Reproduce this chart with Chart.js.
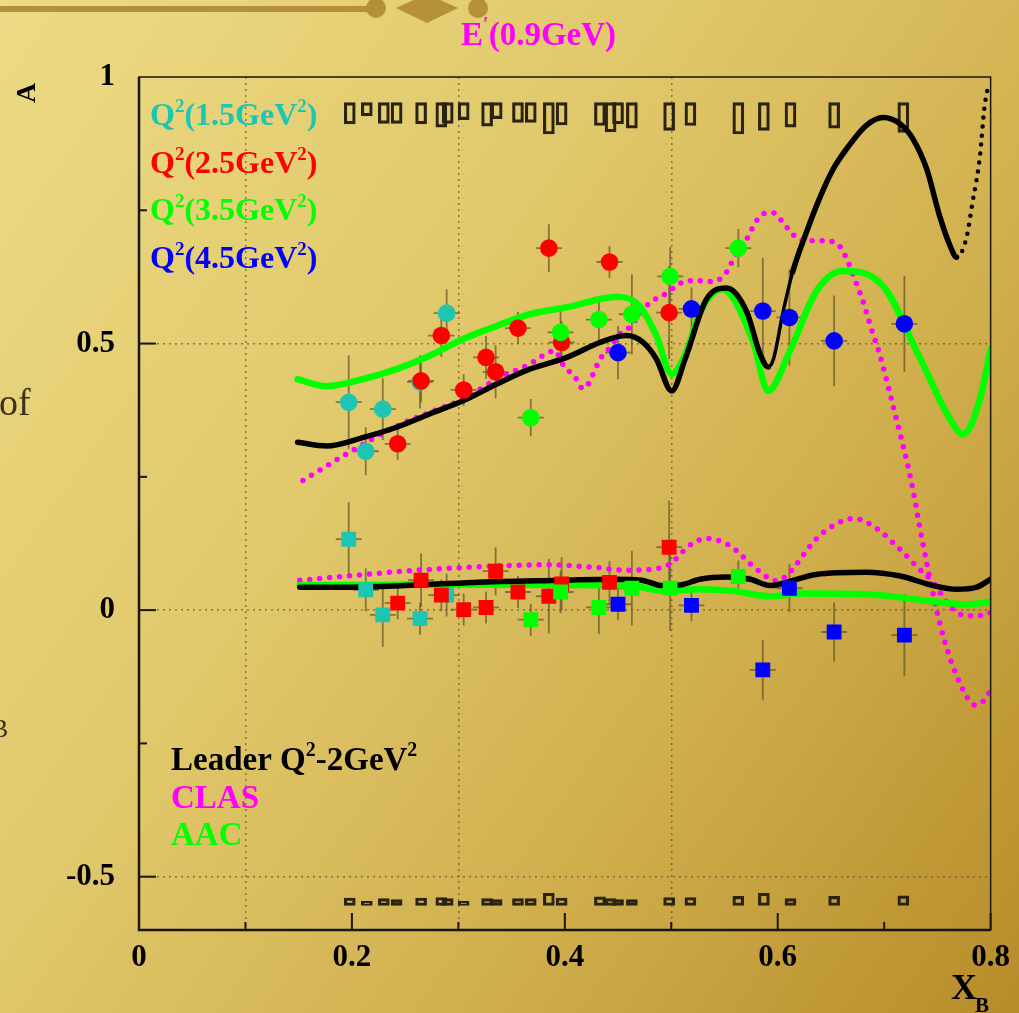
<!DOCTYPE html>
<html lang="en">
<head>
  <meta charset="UTF-8">
  <title>E'(0.9GeV) asymmetry vs x_B</title>
  <script src="https://cdn.jsdelivr.net/npm/chart.js"></script>
  <style>
    html, body {
      margin: 0;
      padding: 0;
    }

    body {
      width: 1019px;
      height: 1013px;
      overflow: hidden;
      background: linear-gradient(125deg, #ecdb84 0%, #e0c76a 40%, #cfad4b 70%, #b68c29 100%);
    }

    canvas {
      display: block;
    }
  </style>
</head>
<body>
  <canvas id="grafico" width="1019" height="1013"></canvas>

  <script>
    // Q^2 bins
    const q2Labels = ['1.5', '2.5', '3.5', '4.5'];
    const q2Colors = ['#1cc6b2', '#ff0000', '#00ff00', '#0000ff'];

    // axis ticks
    const xTicks = [0, 0.2, 0.4, 0.6, 0.8];
    const yTicks = [-0.5, 0, 0.5, 1];

    // circles (upper set) -- x, value, stat error
    const cyanX = [0.197, 0.213, 0.229, 0.264, 0.289];
    const cyanCirc = [0.390, 0.298, 0.377, 0.428, 0.557];
    const cyanCircErr = [0.088, 0.045, 0.058, 0.05, 0.045];

    const redX = [0.243, 0.265, 0.284, 0.305, 0.326, 0.335, 0.356, 0.385, 0.397, 0.442, 0.498];
    const redCirc = [0.312, 0.430, 0.515, 0.413, 0.474, 0.447, 0.529, 0.679, 0.502, 0.653, 0.558];
    const redCircErr = [0.03, 0.04, 0.04, 0.03, 0.04, 0.05, 0.03, 0.045, 0.04, 0.03, 0.087];

    const greenX = [0.368, 0.396, 0.432, 0.463, 0.499, 0.563];
    const greenCirc = [0.361, 0.521, 0.545, 0.555, 0.626, 0.679];
    const greenCircErr = [0.035, 0.05, 0.043, 0.075, 0.055, 0.036];

    const blueX = [0.450, 0.519, 0.586, 0.611, 0.653, 0.719];
    const blueCirc = [0.483, 0.565, 0.561, 0.549, 0.505, 0.537];
    const blueCircErr = [0.05, 0.04, 0.1, 0.09, 0.085, 0.09];

    // squares (lower set)
    const cyanSq = [0.133, 0.038, -0.009, -0.016, 0.028];
    const cyanSqErr = [0.07, 0.04, 0.06, 0.03, 0.04];
    const redSq = [0.013, 0.056, 0.028, 0.001, 0.005, 0.073, 0.034, 0.026, 0.049, 0.052, 0.118];
    const redSqErr = [0.03, 0.05, 0.03, 0.03, 0.03, 0.045, 0.03, 0.07, 0.05, 0.04, 0.087];
    const greenSq = [-0.018, 0.034, 0.005, 0.041, 0.041, 0.063];
    const greenSqErr = [0.03, 0.04, 0.05, 0.07, 0.08, 0.03];
    const blueSq = [0.011, 0.009, -0.112, 0.041, -0.041, -0.047];
    const blueSqErr = [0.03, 0.03, 0.056, 0.045, 0.056, 0.077];

    // systematic boxes (top row hangs from sysTopEdge, bottom row sits on sysBottomEdge)
    const sysX = [0.198, 0.214, 0.230, 0.242, 0.265, 0.284, 0.290, 0.305, 0.327, 0.336, 0.356, 0.368, 0.385,
                  0.397, 0.433, 0.443, 0.450, 0.463, 0.498, 0.518, 0.563, 0.587, 0.612, 0.653, 0.718];
    const sysTopEdge = 0.952;
    const sysTopLow = [0.912, 0.927, 0.913, 0.913, 0.912, 0.906, 0.913, 0.92, 0.908, 0.922, 0.915, 0.915, 0.893,
                       0.91, 0.909, 0.897, 0.912, 0.904, 0.9, 0.909, 0.893, 0.9, 0.906, 0.904, 0.896];
    const sysBottomEdge = -0.554;
    const sysBottomHigh = [-0.540, -0.546, -0.541, -0.543, -0.540, -0.539, -0.541, -0.546, -0.541, -0.543, -0.541, -0.541, -0.531,
                           -0.540, -0.538, -0.541, -0.543, -0.543, -0.539, -0.539, -0.537, -0.531, -0.541, -0.537, -0.536];

    // model curves
    const leaderUpX = [0.149, 0.176, 0.211, 0.242, 0.273, 0.305, 0.336, 0.367, 0.402, 0.433, 0.458, 0.473, 0.486, 0.5005,
                       0.513, 0.533, 0.552, 0.571, 0.583, 0.591, 0.596, 0.605, 0.614, 0.627, 0.639, 0.652, 0.668, 0.683,
                       0.699, 0.715, 0.727, 0.740, 0.752, 0.762, 0.768, 0.777, 0.783, 0.790, 0.794, 0.798];
    const leaderUpY = [0.315, 0.308, 0.324, 0.343, 0.368, 0.393, 0.424, 0.452, 0.474, 0.502, 0.515, 0.503, 0.471, 0.411,
                       0.471, 0.583, 0.604, 0.559, 0.483, 0.456, 0.471, 0.559, 0.634, 0.709, 0.771, 0.827, 0.874, 0.909,
                       0.924, 0.912, 0.884, 0.827, 0.740, 0.683, 0.662, 0.696, 0.765, 0.852, 0.94, 0.987];
    const leaderLowX = [0.151, 0.2, 0.25, 0.314, 0.398, 0.445, 0.472, 0.492, 0.508, 0.527, 0.552, 0.574, 0.593, 0.608,
                        0.636, 0.683, 0.715, 0.746, 0.768, 0.787, 0.8];
    const leaderLowY = [0.043, 0.043, 0.046, 0.052, 0.056, 0.058, 0.056, 0.046, 0.047, 0.058, 0.062, 0.058, 0.046, 0.052,
                        0.067, 0.071, 0.064, 0.046, 0.039, 0.043, 0.058];

    const aacUpX = [0.149, 0.176, 0.210, 0.242, 0.273, 0.304, 0.336, 0.367, 0.402, 0.449, 0.470, 0.486, 0.5005, 0.514,
                    0.527, 0.548, 0.577, 0.591, 0.611, 0.636, 0.661, 0.699, 0.731, 0.762, 0.774, 0.790, 0.8];
    const aacUpY = [0.433, 0.420, 0.433, 0.452, 0.477, 0.508, 0.533, 0.555, 0.568, 0.588, 0.571, 0.515, 0.443, 0.484,
                    0.559, 0.602, 0.503, 0.411, 0.484, 0.597, 0.636, 0.608, 0.484, 0.358, 0.330, 0.396, 0.49];
    const aacLowX = [0.151, 0.2, 0.3, 0.4, 0.46, 0.495, 0.527, 0.558, 0.593, 0.621, 0.683, 0.746, 0.777, 0.8];
    const aacLowY = [0.047, 0.047, 0.048, 0.047, 0.046, 0.036, 0.039, 0.036, 0.026, 0.031, 0.030, 0.016, 0.011, 0.016];

    const clasUpX = [0.154, 0.195, 0.242, 0.273, 0.3045, 0.336, 0.367, 0.3906, 0.398, 0.411, 0.417, 0.4345, 0.444, 0.45,
                     0.459, 0.48, 0.492, 0.505, 0.514, 0.527, 0.539, 0.552, 0.56, 0.571, 0.58, 0.589, 0.596, 0.605,
                     0.614, 0.624, 0.639, 0.65, 0.658, 0.6645, 0.674, 0.68, 0.685, 0.6895, 0.695, 0.71, 0.7255, 0.735,
                     0.75, 0.76, 0.775, 0.785, 0.795, 0.8];
    const clasUpY = [0.243, 0.293, 0.345, 0.371, 0.396, 0.433, 0.4615, 0.4865, 0.4615, 0.433, 0.415, 0.475, 0.496, 0.515,
                     0.527, 0.577, 0.59, 0.608, 0.618, 0.618, 0.616, 0.634, 0.665, 0.696, 0.73, 0.745, 0.745, 0.727,
                     0.705, 0.693, 0.693, 0.692, 0.683, 0.66, 0.612, 0.58, 0.547, 0.518, 0.485, 0.37, 0.241, 0.139,
                     -0.006, -0.079, -0.153, -0.178, -0.167, -0.15];
    const clasLowX = [0.151, 0.179, 0.242, 0.3045, 0.383, 0.43, 0.455, 0.492, 0.501, 0.517, 0.533, 0.555, 0.58, 0.599,
                      0.608, 0.636, 0.652, 0.671, 0.6895, 0.7146, 0.733, 0.746, 0.7615, 0.777, 0.796, 0.8];
    const clasLowY = [0.056, 0.061, 0.072, 0.080, 0.085, 0.080, 0.075, 0.080, 0.090, 0.121, 0.1345, 0.121, 0.077, 0.055,
                      0.064, 0.133, 0.158, 0.172, 0.158, 0.1145, 0.077, 0.052, 0.008, -0.0107, -0.009, -0.004];

    const FONT = '"Liberation Serif", "Times New Roman", serif';

    function pts(xs, ys) {
      return xs.map((x, i) => ({ x: x, y: ys[i] }));
    }

    // point series with their errors (for the error bar plugin)
    // lower "order" is painted on top: blue over green over red over cyan
    const pointSets = [
      { xs: cyanX, ys: cyanCirc, err: cyanCircErr, color: q2Colors[0], style: 'circle', order: 0.3 },
      { xs: redX, ys: redCirc, err: redCircErr, color: q2Colors[1], style: 'circle', order: 0.2 },
      { xs: greenX, ys: greenCirc, err: greenCircErr, color: q2Colors[2], style: 'circle', order: 0.1 },
      { xs: blueX, ys: blueCirc, err: blueCircErr, color: q2Colors[3], style: 'circle', order: 0 },
      { xs: cyanX, ys: cyanSq, err: cyanSqErr, color: q2Colors[0], style: 'rect', order: 0.3 },
      { xs: redX, ys: redSq, err: redSqErr, color: q2Colors[1], style: 'rect', order: 0.2 },
      { xs: greenX, ys: greenSq, err: greenSqErr, color: q2Colors[2], style: 'rect', order: 0.1 },
      { xs: blueX, ys: blueSq, err: blueSqErr, color: q2Colors[3], style: 'rect', order: 0 }
    ];

    function curve(xs, ys, color, width, dotted) {
      return {
        type: 'line',
        data: pts(xs, ys),
        showLine: true,
        borderColor: color,
        borderWidth: width,
        borderCapStyle: 'round',
        borderDash: dotted ? [0, 10] : [],
        pointRadius: 0,
        fill: false,
        cubicInterpolationMode: 'monotone',
        order: 1
      };
    }

    const datasets = [];
    pointSets.forEach(s => {
      datasets.push({
        type: 'scatter',
        data: pts(s.xs, s.ys),
        pointStyle: s.style,
        pointRadius: s.style === 'rect' ? 10.5 : 8.8,
        backgroundColor: s.color,
        borderWidth: 0,
        order: s.order
      });
    });

    const leaderUp = curve(leaderUpX, leaderUpY, '#000000', 5.5, false);
    // steep tail looks like separated dots in the original
    leaderUp.segment = {
      borderDash: c => (c.p0.parsed.x >= 0.768 ? [0, 9] : undefined),
      borderWidth: c => (c.p0.parsed.x >= 0.768 ? 4.5 : (c.p0.parsed.x >= 0.591 && c.p0.parsed.x < 0.612 ? 3.5 : undefined))
    };
    datasets.push(leaderUp);
    datasets.push(curve(leaderLowX, leaderLowY, '#000000', 5.5, false));
    datasets.push(curve(aacUpX, aacUpY, '#00ff00', 6.5, false));
    datasets.push(curve(aacLowX, aacLowY, '#00ff00', 6.5, false));
    datasets.push(curve(clasUpX, clasUpY, '#ff00ff', 5.5, true));
    datasets.push(curve(clasLowX, clasLowY, '#ff00ff', 5.5, true));

    const boxStyle = {
      type: 'bar',
      backgroundColor: 'rgba(0,0,0,0)',
      borderColor: '#2a2312',
      borderWidth: 2.5,
      borderSkipped: false,
      barThickness: 11,
      grouped: false,
      order: 2
    };
    datasets.push(Object.assign({}, boxStyle, {
      data: sysX.map((x, i) => ({ x: x, y: [sysTopLow[i], sysTopEdge] }))
    }));
    datasets.push(Object.assign({}, boxStyle, {
      data: sysX.map((x, i) => ({ x: x, y: [sysBottomEdge, sysBottomHigh[i]] }))
    }));

    // text with single-character superscripts written as ^c
    function drawRich(ctx, str, x, y, size, color) {
      ctx.fillStyle = color;
      ctx.textAlign = 'left';
      ctx.textBaseline = 'alphabetic';
      const parts = str.split(/\^(.)/);
      let cx = x;
      parts.forEach((t, i) => {
        if (!t) return;
        const sup = i % 2 === 1;
        ctx.font = 'bold ' + Math.round(sup ? size * 0.6 : size) + 'px ' + FONT;
        ctx.fillText(t, cx, sup ? y - size * 0.42 : y);
        cx += ctx.measureText(t).width;
      });
    }

    const errorBars = {
      id: 'errorBars',
      beforeDatasetsDraw(chart) {
        const { ctx, scales: { x, y } } = chart;
        ctx.save();
        ctx.beginPath();
        ctx.rect(chart.chartArea.left, chart.chartArea.top, chart.chartArea.width, chart.chartArea.height);
        ctx.clip();
        ctx.strokeStyle = 'rgba(95,82,40,0.7)';
        ctx.lineWidth = 1.8;
        pointSets.forEach(s => {
          s.xs.forEach((xv, i) => {
            const px = x.getPixelForValue(xv);
            const py = y.getPixelForValue(s.ys[i]);
            ctx.beginPath();
            ctx.moveTo(px, y.getPixelForValue(s.ys[i] + s.err[i]));
            ctx.lineTo(px, y.getPixelForValue(s.ys[i] - s.err[i]));
            ctx.moveTo(px - 13, py);
            ctx.lineTo(px + 13, py);
            ctx.stroke();
          });
        });
        ctx.restore();
      }
    };

    const decorations = {
      id: 'decorations',
      beforeDraw(chart) {
        const ctx = chart.ctx;
        ctx.save();
        // slide ornament at the top
        ctx.fillStyle = '#b4903a';
        ctx.fillRect(0, 6, 368, 6);
        ctx.beginPath();
        ctx.arc(376, 8, 10, 0, Math.PI * 2);
        ctx.fill();
        ctx.beginPath();
        ctx.moveTo(396, 8);
        ctx.lineTo(427, -6);
        ctx.lineTo(458, 8);
        ctx.lineTo(427, 23);
        ctx.closePath();
        ctx.fill();
        ctx.beginPath();
        ctx.arc(478, 8, 10, 0, Math.PI * 2);
        ctx.fill();
        // text of the slide cut by the picture
        ctx.fillStyle = '#3b311d';
        ctx.font = '38px "Liberation Serif", serif';
        ctx.fillText('of', -1, 415);
        ctx.font = '26px "Liberation Serif", serif';
        ctx.fillText('B', -9, 737);
        ctx.restore();
      },
      afterDraw(chart) {
        const { ctx, chartArea: a, scales: { x, y } } = chart;
        ctx.save();
        // frame
        ctx.strokeStyle = '#1a160c';
        ctx.lineWidth = 1.5;
        ctx.strokeRect(a.left, a.top, a.width, a.height);
        ctx.lineWidth = 2.5;
        ctx.beginPath();
        ctx.moveTo(a.left, a.top);
        ctx.lineTo(a.left, a.bottom);
        ctx.lineTo(a.right, a.bottom);
        ctx.stroke();
        // inward ticks
        ctx.lineWidth = 2;
        for (let v = 0.1; v < 0.8; v += 0.1) {
          const px = x.getPixelForValue(v);
          const major = Math.abs(v / 0.2 - Math.round(v / 0.2)) < 1e-6;
          ctx.beginPath();
          ctx.moveTo(px, a.bottom);
          ctx.lineTo(px, a.bottom - (major ? 17 : 8));
          ctx.stroke();
        }
        for (let v = -0.5; v < 1; v += 0.25) {
          const py = y.getPixelForValue(v);
          const major = Math.abs(v * 2 - Math.round(v * 2)) < 1e-6;
          ctx.beginPath();
          ctx.moveTo(a.left, py);
          ctx.lineTo(a.left + (major ? 17 : 8), py);
          ctx.stroke();
        }

        // title
        drawRich(ctx, 'E^\u2032(0.9GeV)', 461, 45, 33, '#ff00ff');

        // Q^2 legend
        const qBase = [125, 173, 220, 268];
        q2Labels.forEach((q, i) => {
          drawRich(ctx, 'Q^2(' + q + 'GeV^2)', 150, qBase[i], 32, q2Colors[i]);
        });

        // model legend
        drawRich(ctx, 'Leader Q^2-2GeV^2', 171, 770, 33, '#000000');
        drawRich(ctx, 'CLAS', 171, 808, 33, '#ff00ff');
        drawRich(ctx, 'AAC', 171, 845, 33, '#00ff00');

        // axis titles
        ctx.fillStyle = '#000';
        ctx.font = 'bold 36px ' + FONT;
        ctx.textAlign = 'left';
        ctx.fillText('X', 951, 999);
        ctx.font = 'bold 21px ' + FONT;
        ctx.fillText('B', 975, 1012);

        ctx.translate(28, 93);
        ctx.rotate(-Math.PI / 2);
        ctx.font = 'bold 28px ' + FONT;
        ctx.textAlign = 'center';
        ctx.textBaseline = 'middle';
        ctx.fillText('A', 0, 0);
        ctx.restore();
      }
    };

    const gridColor = edge => (edge ? 'rgba(0,0,0,0)' : 'rgba(95,82,45,0.7)');

    new Chart(document.getElementById('grafico').getContext('2d'), {
      type: 'scatter',
      data: { datasets: datasets },
      options: {
        responsive: false,
        animation: false,
        devicePixelRatio: 1,
        layout: { padding: { top: 77, right: 28, left: 0, bottom: 0 } },
        plugins: {
          legend: { display: false },
          tooltip: { enabled: false }
        },
        scales: {
          x: {
            type: 'linear',
            min: 0,
            max: 0.8,
            offset: false,
            afterBuildTicks: s => { s.ticks = xTicks.map(v => ({ value: v })); },
            afterFit: s => { s.height = 83; },
            ticks: {
              padding: 9,
              color: '#000',
              font: { family: FONT, size: 31, weight: 'bold' },
              callback: v => String(v)
            },
            grid: {
              drawTicks: false,
              lineWidth: 1.5,
              color: c => gridColor(c.tick && (c.tick.value === 0 || c.tick.value === 0.8))
            },
            border: { display: false, dash: [2, 4] }
          },
          y: {
            type: 'linear',
            min: -0.6,
            max: 1,
            afterBuildTicks: s => { s.ticks = yTicks.map(v => ({ value: v })); },
            afterFit: s => { s.width = 139; },
            ticks: {
              padding: 24,
              color: '#000',
              font: { family: FONT, size: 31, weight: 'bold' },
              callback: v => String(v)
            },
            grid: {
              drawTicks: false,
              lineWidth: 1.5,
              color: c => gridColor(c.tick && c.tick.value === 1)
            },
            border: { display: false, dash: [2, 4] }
          }
        }
      },
      plugins: [errorBars, decorations]
    });
  </script>
</body>
</html>
